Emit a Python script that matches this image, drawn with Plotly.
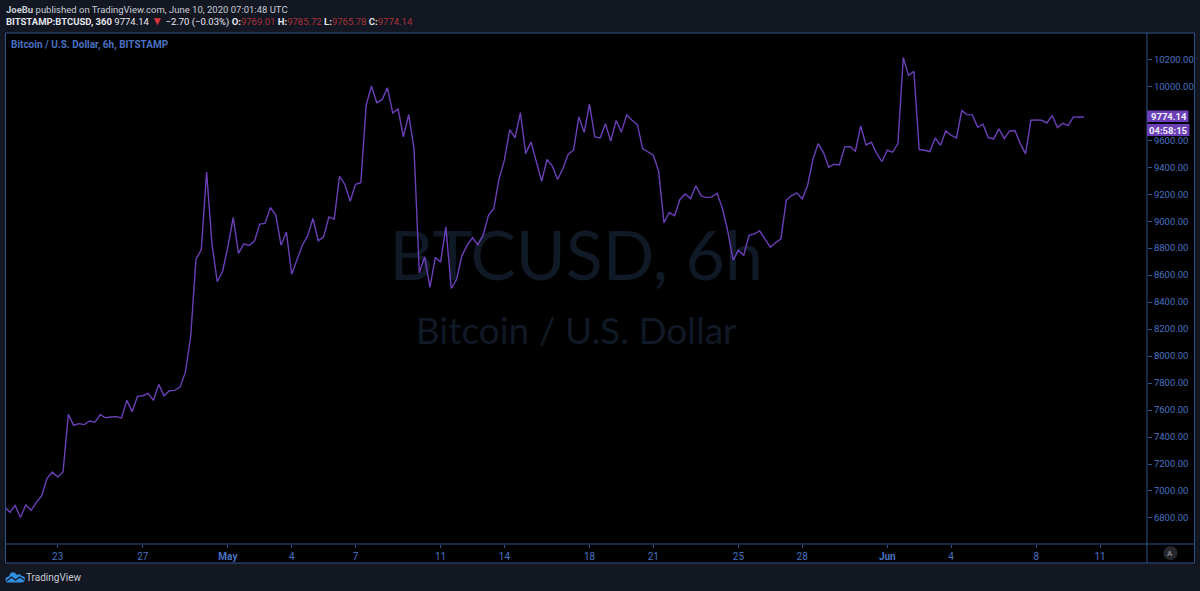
import pandas as pd
from plotly import graph_objects as go

# 6h closes, Apr 20 to Jun 10 2020
prices = [
    6884, 6842, 6894, 6803, 6896, 6857, 6916, 6966, 7094, 7141, 7104, 7141,
    7568, 7487, 7499, 7492, 7519, 7509, 7566, 7543, 7548, 7551, 7541, 7672,
    7588, 7701, 7706, 7724, 7672, 7790, 7706, 7743, 7746, 7770, 7879, 8143,
    8716, 8790, 9365, 8835, 8551, 8627, 8810, 9027, 8761, 8832, 8820, 8852,
    8978, 8983, 9101, 9047, 8822, 8919, 8607, 8711,
    8822, 8891, 9020, 8854, 8884, 9032, 9015, 9333, 9272, 9148, 9274, 9286,
    9859, 10002, 9879, 9901, 9988, 9802, 9832, 9625, 9790, 9538, 8617, 8736,
    8509, 8731, 8696, 8958, 8501, 8568, 8743, 8822, 8877, 8825, 8896, 9044,
    9094, 9316, 9452, 9679, 9617, 9805, 9501, 9588, 9452, 9296, 9457, 9410,
    9309, 9390, 9496, 9526, 9773, 9659, 9867, 9625, 9617,
    9723, 9593, 9746, 9662, 9788, 9748, 9716, 9538, 9514, 9489, 9370, 8988,
    9064, 9040, 9161, 9202, 9168, 9262, 9188, 9175, 9180, 9207, 9094, 8926,
    8711, 8783, 8748, 8896, 8906, 8928, 8867, 8807, 8840, 8869, 9156, 9190,
    9210, 9165, 9262, 9457, 9575, 9509, 9400, 9422, 9417, 9551, 9553, 9519,
    9706, 9565, 9585, 9501, 9442, 9526, 9511, 9575,
    10212, 10081, 10111, 9531, 9526, 9516, 9617, 9563, 9669, 9637, 9617, 9820,
    9790, 9788, 9696, 9719, 9620, 9610, 9684, 9612, 9669, 9672, 9575, 9499,
    9748, 9751, 9748, 9728, 9783, 9694, 9726, 9709, 9773, 9770, 9774.14,
]
dates = pd.date_range(end="2020-06-10 06:00", periods=len(prices), freq="6h")

x_tick_dates = ["2020-04-23", "2020-04-27", "2020-05-01", "2020-05-04", "2020-05-07",
                "2020-05-11", "2020-05-14", "2020-05-18", "2020-05-21", "2020-05-25",
                "2020-05-28", "2020-06-01", "2020-06-04", "2020-06-08", "2020-06-11"]
x_tick_labels = ["23", "27", "<b>May</b>", "4", "7", "11", "14", "18", "21", "25",
                 "28", "<b>Jun</b>", "4", "8", "11"]
# 9800 is hidden behind the last price tag in the original
y_ticks = [6800, 7000, 7200, 7400, 7600, 7800, 8000, 8200, 8400, 8600,
           8800, 9000, 9200, 9400, 9600, 10000, 10200]

W, H = 1200, 591
L, R, T, B = 5.5, 1147.5, 33, 544
BG = "#131722"
FRAME = "#2f5288"
BLUE = "#4a72c0"
PURPLE = "#6b3fb8"
RED = "#a8323a"
TXT = "#c8ccd6"
FONT = "Roboto"

def fx(px):
    return (px - L) / (R - L)

def fy(py):
    return (B - py) / (B - T)

def label(px, py, text, size, color, anchor="left", family=FONT):
    return dict(x=fx(px), y=fy(py), xref="paper", yref="paper", text=text, showarrow=False,
                xanchor=anchor, yanchor="middle", font=dict(family=family, size=size, color=color))

def line(x0, y0, x1, y1):
    return dict(type="line", xref="paper", yref="paper", x0=fx(x0), y0=fy(y0), x1=fx(x1), y1=fy(y1),
                line=dict(color=FRAME, width=1), layer="above")

fig = go.Figure()
# watermark goes first so the price line sits on top of it
fig.add_trace(go.Scatter(
    x=["2020-05-17 09:00", "2020-05-17 09:00"], y=[8689, 8161],
    text=["BTCUSD, 6h", "Bitcoin / U.S. Dollar"], mode="text", hoverinfo="skip",
    textposition="middle center",
    textfont=dict(family="Lato", size=[68, 37], color="#101926"),
))
fig.add_trace(go.Scatter(x=dates, y=prices, mode="lines", line=dict(color=PURPLE, width=1.4)))

red = lambda s: f"<span style='color:{RED}'>{s}</span>"
head1 = "<b>JoeBu</b> published on TradingView.com, June 10, 2020 07:01:48 UTC"
head2 = ("<b>BITSTAMP:BTCUSD, 360</b> 9774.14 " + "<span style='color:#d8343c;font-size:12px'>▼</span>"
         + " −2.70 (−0.03%) <b>O:</b>" + red("9769.01")
         + " <b>H:</b>" + red("9785.72") + " <b>L:</b>" + red("9765.78") + " <b>C:</b>" + red("9774.14"))

annotations = [
    label(3.5, 9, head1, 9.5, TXT),
    label(3.5, 21, head2, 9.5, "#e4e6ec"),
    label(9, 45, "<b>Bitcoin / U.S. Dollar, 6h, BITSTAMP</b>", 10, BLUE),
    label(23.5, 577, "TradingView", 10, "#c4c8d2"),
    label(1171, 553, "<b>A</b>", 8, "#7d8089", anchor="center"),
    label(1169.5, 116.5, "<b>9774.14</b>", 9.5, "#f0eef8", anchor="center"),
    label(1169.5, 130, "<b>04:58:15</b>", 9.5, "#f0eef8", anchor="center"),
]

shapes = [
    # black chart panel with its frame
    dict(type="rect", xref="paper", yref="paper", x0=fx(5), y0=fy(33), x1=fx(1195), y1=fy(563),
         fillcolor="#000000", line=dict(color=FRAME, width=1), layer="below"),
    line(5, 544, 1195, 544),
    line(1147.5, 33, 1147.5, 563),
    # last price and countdown tags
    dict(type="rect", xref="paper", yref="paper", x0=fx(1147.5), y0=fy(110.5), x1=fx(1189), y1=fy(122),
         fillcolor=PURPLE, line=dict(width=0), layer="above"),
    dict(type="rect", xref="paper", yref="paper", x0=fx(1147.5), y0=fy(124), x1=fx(1190), y1=fy(136),
         fillcolor=PURPLE, line=dict(width=0), layer="above"),
    # auto scale button
    dict(type="circle", xref="paper", yref="paper", x0=fx(1164), y0=fy(546), x1=fx(1178), y1=fy(560),
         fillcolor="#26272c", line=dict(width=0), layer="above"),
    # TradingView logo, pixel paths measured up from the bottom left corner
    dict(type="path", xref="paper", yref="paper", xsizemode="pixel", ysizemode="pixel",
         xanchor=fx(0), yanchor=fy(591),
         path="M5,11 C5,9 6,8.5 8,8.5 L21,8.5 C23,8.5 24.5,10 24.5,12 C24.5,14 23,15 21,15 C20,17 18,17 16.5,16 C15,19 11,20 9.5,17 C9,15 8,14 7,14 C6,14 5,13 5,11 Z",
         fillcolor="#2f8fe0", line=dict(width=0), layer="above"),
    dict(type="path", xref="paper", yref="paper", xsizemode="pixel", ysizemode="pixel",
         xanchor=fx(0), yanchor=fy(591),
         path="M6,10 L11,14 L15,11 L19,14 L24,11",
         line=dict(color="#131722", width=1.2), layer="above"),
]

fig.update_layout(
    width=W, height=H, autosize=False,
    margin=dict(l=L, r=W - R, t=T, b=H - B, pad=0),
    paper_bgcolor=BG,
    plot_bgcolor="#000000",
    showlegend=False,
    hovermode=False,
    annotations=annotations,
    shapes=shapes,
    font=dict(family=FONT),
    xaxis=dict(
        type="date", range=["2020-04-20 13:40", "2020-06-13 05:00"],
        tickmode="array", tickvals=x_tick_dates, ticktext=x_tick_labels,
        showgrid=False, zeroline=False, showline=False,
        ticks="outside", ticklen=3, tickcolor=FRAME, tickwidth=1,
        tickfont=dict(family=FONT, size=10, color=BLUE), tickangle=0,
    ),
    yaxis=dict(
        side="right", range=[6607, 10395],
        tickmode="array", tickvals=y_ticks, ticktext=[f"{v:.2f}" for v in y_ticks],
        showgrid=False, zeroline=False, showline=False,
        ticks="outside", ticklen=4, tickcolor=FRAME, tickwidth=1,
        tickfont=dict(family=FONT, size=9.5, color=BLUE),
    ),
)

# the page's default body margin would push the chart 8px down and right
fig.write_html("out.html", config=dict(displayModeBar=False),
               post_script="document.body.style.margin='0';")
